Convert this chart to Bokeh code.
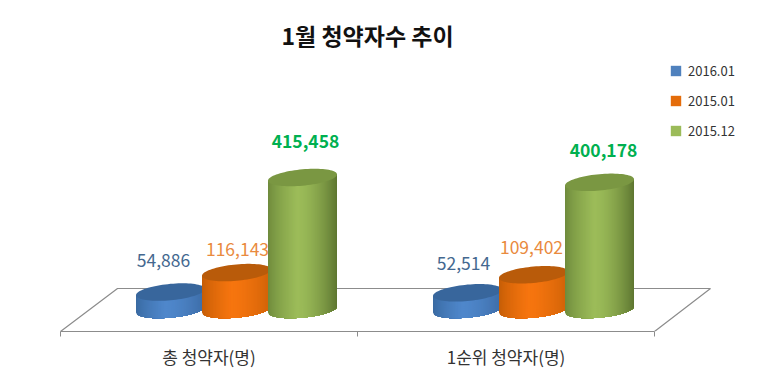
import numpy as np
from bokeh.core.properties import value
from bokeh.embed import file_html
from bokeh.models import ColumnDataSource, FixedTicker, Legend, LegendItem, LinearAxis, Range1d
from bokeh.plotting import figure
from bokeh.resources import INLINE

title = "1월 청약자수 추이"
categories = ["총 청약자(명)", "1순위 청약자(명)"]
series_names = ["2016.01", "2015.01", "2015.12"]
v_2016_01 = [54886, 52514]
v_2015_01 = [116143, 109402]
v_2015_12 = [415458, 400178]
series_values = [v_2016_01, v_2015_01, v_2015_12]

FONT = "Noto Sans CJK KR"
W, H = 748, 374
TOP, BOTTOM = 56, 43
# picture pixel geometry
fx0, fx1 = 0, W
fy0, fy1 = TOP, H - BOTTOM
cat_px = 297.0
x0_px = 60.0
base_px = 309.0
U = 415458 / 132.0  # value units per pixel


def dx(px):
    return (np.asarray(px, dtype=float) - x0_px) / cat_px


def dy(px):
    return (base_px - np.asarray(px, dtype=float)) * U


p = figure(
    width=W, height=H, output_backend="svg", toolbar_location=None,
    x_range=Range1d(float(dx(fx0)), float(dx(fx1))),
    y_range=Range1d(float(dy(fy1)), float(dy(fy0))),
    min_border_left=0, min_border_right=0, min_border_top=TOP, min_border_bottom=BOTTOM,
    x_axis_location=None, y_axis_location=None,
)
p.grid.visible = False
p.outline_line_color = None
p.background_fill_color = "white"
p.border_fill_color = "white"

p.title.text = title
p.title.text_font = FONT
p.title.text_font_size = "23px"
p.title.text_font_style = "bold"
p.title.text_color = "#111111"
p.title.align = "left"
p.title.offset = 281

# floor
FLOOR = "#8c8c8c"
p.line(dx([60, 117, 710, 654]), dy([331, 288, 288, 331]), line_color=FLOOR, line_width=1.2)

# axes
ax = LinearAxis(ticker=FixedTicker(ticks=[0, 1, 2]), bounds=(0, 2))
ax.major_label_text_font_size = "0px"
ax.major_label_overrides = {0: "", 1: "", 2: ""}
ax.major_label_standoff = 0
ax.axis_line_color = FLOOR
ax.axis_line_width = 1.2
ax.major_tick_line_color = FLOOR
ax.major_tick_in = 0
ax.major_tick_out = 5
ax.minor_tick_line_color = None
p.add_layout(ax, "below")

ax2 = LinearAxis(ticker=FixedTicker(ticks=[0.5, 1.5]), bounds=(0, 2))
ax2.major_label_overrides = {0.5: categories[0], 1.5: categories[1]}
ax2.major_label_text_font = FONT
ax2.major_label_text_font_size = "17px"
ax2.major_label_text_color = "#333333"
ax2.major_label_standoff = 1
ax2.axis_line_color = None
ax2.major_tick_line_color = None
ax2.minor_tick_line_color = None
p.add_layout(ax2, "below")

# style per series
side_left = ["#38689f", "#c25c06", "#6c883a"]
side_mid = ["#4f87cb", "#f6750f", "#9cbc59"]
side_right = ["#3d6ca6", "#cf6208", "#5e7731"]
top_col = ["#38669c", "#b95b0a", "#7a9742"]
legend_col = ["#4f81bd", "#e46c0a", "#9bbb59"]
label_col = ["#44688f", "#e98a3e", "#00b050"]
label_bold = ["normal", "normal", "bold"]
label_size = ["17.5px", "17.5px", "17.5px"]
# pixel offsets of the cylinders from the category tick centre
cyl_dx = [-132, -66, 0]
label_dx = [[-7, -4], [1, -2], [3, 4]]
label_dy = [[-32, -29], [-23, -27], [-36, -32]]
RX, RY, SHEAR = 34.5, 8.2, -0.09
N = 70
centres = [302.0, 599.0]


def mix(a, b, t):
    ca = [int(a[i:i + 2], 16) for i in (1, 3, 5)]
    cb = [int(b[i:i + 2], 16) for i in (1, 3, 5)]
    return "#%02x%02x%02x" % tuple(int(round(x + (y - x) * t)) for x, y in zip(ca, cb))


def side_colour(s, u):
    if u < 0.42:
        return mix(side_left[s], side_mid[s], (u / 0.42) ** 0.7)
    return mix(side_mid[s], side_right[s], ((u - 0.42) / 0.58) ** 1.6)


renderers = []
for s, vals in enumerate(series_values):
    for c, val in enumerate(vals):
        cx = centres[c] + cyl_dx[s]
        h_px = val / U
        edges = np.linspace(-RX, RX, N + 1)
        xs, ys, cols = [], [], []
        for i in range(N):
            a = edges[i]
            # each strip runs on to the cylinder's right edge, the next one paints over it
            xa = np.linspace(a, RX, N + 1 - i)
            arc = RY * np.sqrt(np.clip(1 - (xa / RX) ** 2, 0, 1))
            lo = base_px + SHEAR * xa + arc      # lower edge of base, pixel
            up = base_px - h_px + SHEAR * xa     # mid line of top, pixel
            xs.append(dx(cx + np.concatenate([xa, xa[::-1]])))
            ys.append(dy(np.concatenate([lo, up[::-1]])))
            cols.append(side_colour(s, (i + 0.5) / N))
        t = np.linspace(0, 2 * np.pi, 81)
        ex = RX * np.cos(t)
        ey = base_px - h_px + SHEAR * ex + RY * np.sin(t)
        src = ColumnDataSource(dict(x=[float(dx(cx + label_dx[s][c]))], y=[val], t=[f"{val:,}"]))
        p.text("x", "y", text="t", source=src, text_font=value(FONT), text_font_size=label_size[s],
               text_font_style=label_bold[s], text_color=label_col[s], text_align="center",
               text_baseline="middle", y_offset=label_dy[s][c])
        p.patches(xs, ys, fill_color=cols, line_color=None)
        p.patch(dx(cx + ex), dy(ey), fill_color=top_col[s], line_color=None)
    renderers.append(p.quad(left=[np.nan], right=[np.nan], top=[np.nan], bottom=[np.nan],
                            fill_color=legend_col[s], line_color=None))

legend = Legend(
    items=[LegendItem(label=n, renderers=[r]) for n, r in zip(series_names, renderers)],
    location=(669, 191), orientation="vertical",
    border_line_color=None, background_fill_alpha=0,
    glyph_width=13, glyph_height=13, label_standoff=6,
    label_text_font=FONT, label_text_font_size="13px", label_text_color="#333333",
    spacing=11, padding=0, margin=0,
)
p.add_layout(legend)

open("out.html", "w").write(file_html(p, INLINE))
